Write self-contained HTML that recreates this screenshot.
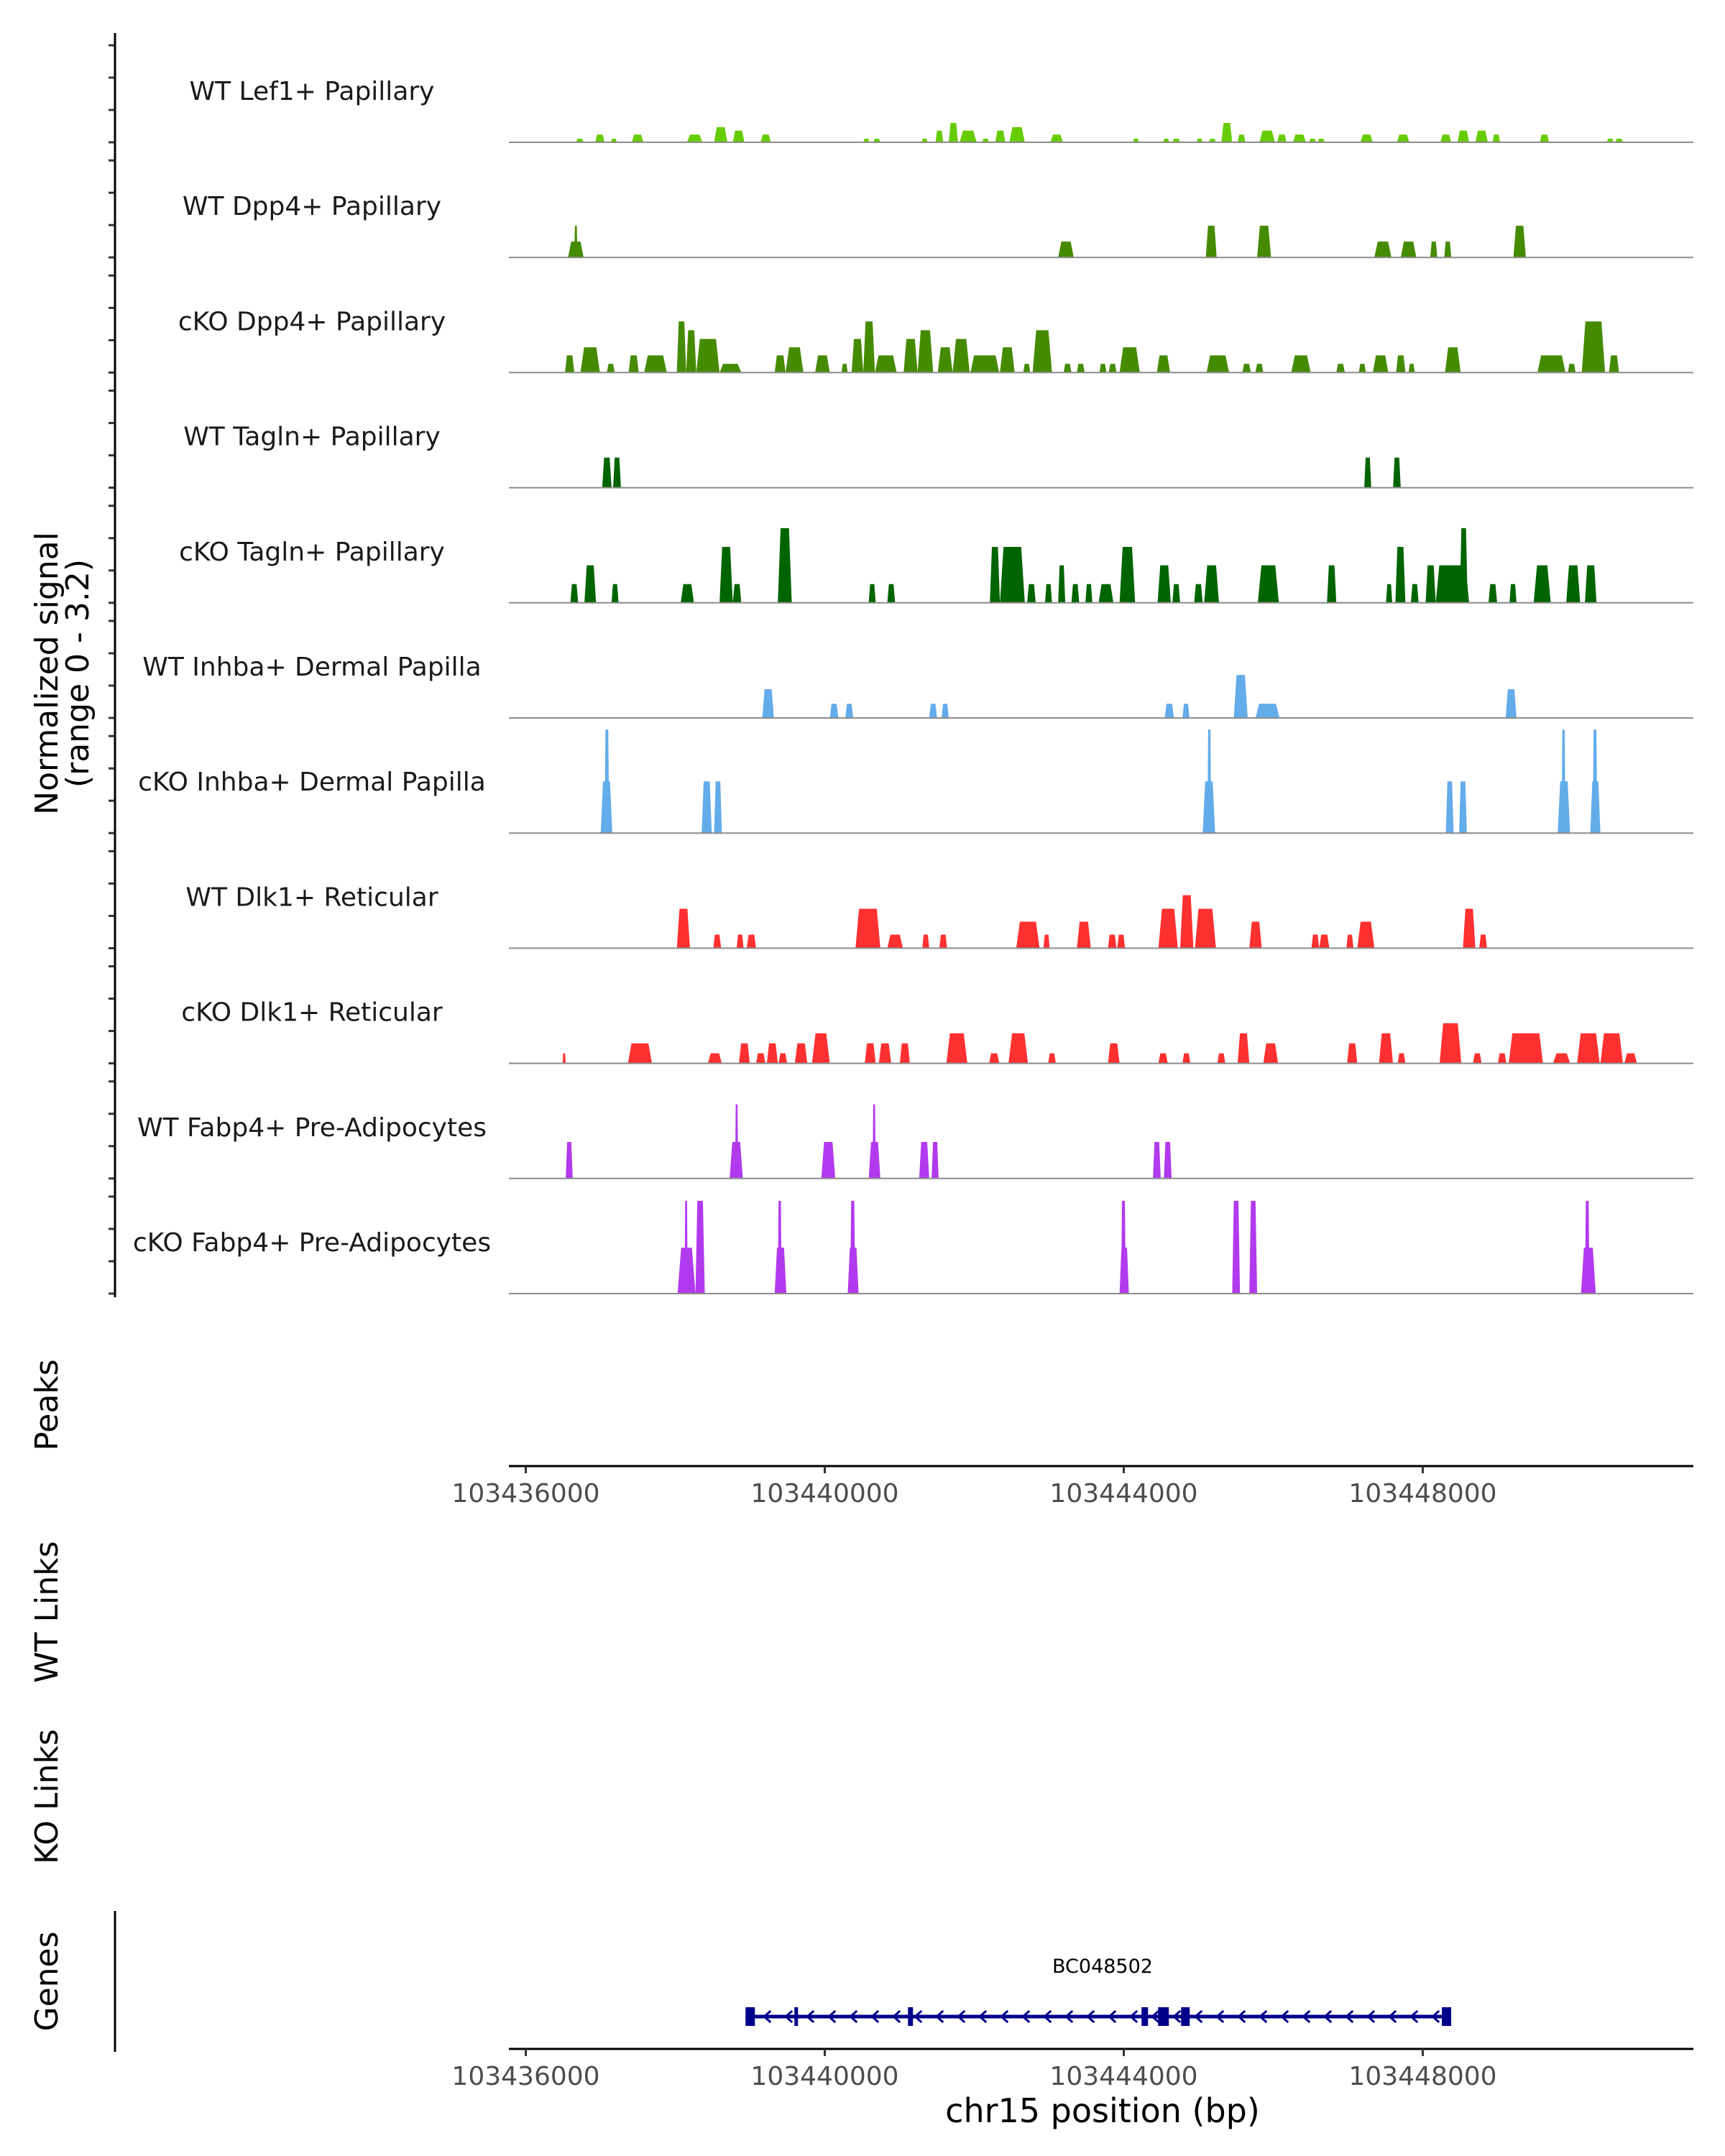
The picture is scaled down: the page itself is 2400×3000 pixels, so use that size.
<!DOCTYPE html>
<html><head><meta charset="utf-8">
<style>
html,body{margin:0;padding:0;background:#fff;}
svg{display:block;font-family:"DejaVu Sans","Liberation Sans",sans-serif;}
</style></head>
<body>
<svg id="chart" xmlns="http://www.w3.org/2000/svg" width="2400" height="3000" viewBox="0 0 2400 3000">
<rect width="2400" height="3000" fill="#fff"/>
<g id="tracks"></g>
<g id="axes"></g>
<g id="genes"></g>
</svg>
<script>
const REGION_START = 103436000;
const trackNames = ["WT Lef1+ Papillary","WT Dpp4+ Papillary","cKO Dpp4+ Papillary","WT Tagln+ Papillary","cKO Tagln+ Papillary","WT Inhba+ Dermal Papilla","cKO Inhba+ Dermal Papilla","WT Dlk1+ Reticular","cKO Dlk1+ Reticular","WT Fabp4+ Pre-Adipocytes","cKO Fabp4+ Pre-Adipocytes"];
const trackColors = ["#66cc00","#458b00","#458b00","#006400","#006400","#63acea","#63acea","#ff3030","#ff3030","#b23aee","#b23aee"];
const xTicks = [103436000,103440000,103444000,103448000];
const xTickLabels = ["103436000","103440000","103444000","103448000"];
// peaks: [start offset bp, end offset bp, signal]
const lef1WT = [[658,765,0.11],[925,1053,0.24],[1139,1224,0.11],[1427,1587,0.24],[2185,2399,0.24],[2559,2741,0.47],[2816,2976,0.36],[3200,3339,0.24],[4610,4695,0.11],[4749,4845,0.11],[5411,5496,0.11],[5603,5710,0.36],[5785,5913,0.6],[5934,6169,0.36],[6244,6340,0.11],[6425,6564,0.36],[6618,6831,0.47],[7184,7355,0.24],[8316,8401,0.11],[8732,8818,0.11],[8860,8967,0.11],[9192,9277,0.11],[9362,9459,0.11],[9533,9683,0.6],[9757,9864,0.24],[10057,10270,0.36],[10302,10430,0.24],[10516,10697,0.24],[10740,10836,0.11],[10858,10954,0.11],[11445,11616,0.24],[11947,12118,0.24],[12545,12695,0.24],[12780,12940,0.36],[13026,13197,0.36],[13261,13367,0.24],[13912,14040,0.24],[14831,14927,0.11],[14948,15055,0.11]];
const dpp4WT = [[551,765,0.49],[637,680,0.98],[7290,7504,0.49],[9320,9469,0.98],[10025,10217,0.98],[11637,11872,0.49],[12000,12214,0.49],[12406,12502,0.49],[12598,12695,0.49],[13549,13720,0.98]];
const dpp4KO = [[509,637,0.53],[722,989,0.78],[1085,1192,0.27],[1384,1523,0.53],[1598,1908,0.53],[2047,2175,1.58],[2175,2314,1.31],[2314,2634,1.04],[2634,2933,0.27],[3392,3542,0.53],[3542,3787,0.78],[3948,4150,0.53],[4311,4396,0.27],[4450,4610,1.04],[4610,4770,1.58],[4770,5069,0.53],[5165,5357,1.04],[5357,5571,1.31],[5635,5838,0.78],[5838,6073,1.04],[6084,6479,0.53],[6489,6692,0.78],[6810,6906,0.27],[6938,7205,1.31],[7365,7472,0.27],[7547,7654,0.27],[7857,7953,0.27],[7985,8092,0.27],[8134,8412,0.78],[8647,8828,0.53],[9330,9640,0.53],[9822,9939,0.27],[10003,10110,0.27],[10494,10761,0.53],[11114,11231,0.27],[11424,11520,0.27],[11616,11829,0.53],[11936,12064,0.53],[12107,12193,0.27],[12609,12823,0.78],[13880,14265,0.53],[14297,14404,0.27],[14489,14809,1.58],[14863,15001,0.53]];
const taglnWT = [[1021,1149,0.93],[1171,1278,0.93],[11498,11594,0.93],[11894,12000,0.93]];
const taglnKO = [[583,690,0.58],[776,936,1.16],[1149,1246,0.58],[2100,2282,0.58],[2634,2816,1.73],[2816,2933,0.58],[3435,3627,2.31],[4685,4781,0.58],[4941,5048,0.58],[6351,6489,1.73],[6489,6831,1.73],[6863,6981,0.58],[7109,7205,0.58],[7290,7387,1.16],[7472,7579,0.58],[7664,7760,0.58],[7846,8049,0.58],[8134,8348,1.73],[8657,8839,1.16],[8860,8967,0.58],[9159,9277,0.58],[9298,9501,1.16],[10035,10324,1.16],[10986,11114,1.16],[11798,11883,0.58],[11926,12064,1.73],[12139,12246,0.58],[12342,12481,1.16],[12481,12940,1.16],[12812,12919,2.31],[13207,13325,0.58],[13495,13592,0.58],[13827,14062,1.16],[14275,14467,1.16],[14532,14692,1.16]];
const inhbaWT = [[3221,3382,0.89],[4150,4268,0.44],[4364,4471,0.44],[5517,5624,0.44],[5688,5785,0.44],[8753,8882,0.44],[8999,9095,0.44],[9704,9896,1.33],[10003,10334,0.44],[13442,13592,0.89]];
const inhbaKO = [[1000,1160,1.6],[1053,1117,3.2],[2388,2527,1.6],[2559,2666,1.6],[9277,9448,1.6],[9341,9394,3.2],[12620,12727,1.6],[12802,12909,1.6],[14158,14329,1.6],[14211,14265,3.2],[14606,14745,1.6],[14639,14703,3.2]];
const dlk1WT = [[2047,2228,1.22],[2548,2655,0.42],[2869,2965,0.42],[3008,3136,0.42],[4503,4845,1.22],[4941,5155,0.42],[5421,5517,0.42],[5656,5763,0.42],[6714,7034,0.82],[7088,7173,0.42],[7547,7739,0.82],[7974,8092,0.42],[8102,8209,0.42],[8668,8935,1.22],[8967,9149,1.64],[9170,9459,1.22],[9918,10089,0.82],[10772,10879,0.42],[10879,11018,0.42],[11253,11349,0.42],[11402,11637,0.82],[12855,13026,1.22],[13079,13186,0.42]];
const dlk1KO = [[477,519,0.31],[1374,1705,0.62],[2474,2666,0.31],[2901,3050,0.62],[3136,3264,0.31],[3285,3435,0.62],[3446,3563,0.31],[3670,3841,0.62],[3905,4150,0.93],[4631,4781,0.62],[4824,4994,0.62],[5112,5251,0.62],[5753,6041,0.93],[6340,6479,0.31],[6607,6874,0.93],[7152,7258,0.31],[7974,8134,0.62],[8668,8796,0.31],[8999,9106,0.31],[9480,9587,0.31],[9757,9918,0.93],[10110,10313,0.62],[11263,11402,0.62],[11701,11893,0.93],[11958,12064,0.31],[12534,12833,1.24],[12994,13111,0.31],[13335,13453,0.31],[13485,13955,0.93],[14094,14329,0.31],[14425,14735,0.93],[14745,15055,0.93],[15076,15247,0.31]];
const fabp4WT = [[519,615,1.13],[2773,2954,1.13],[2848,2890,2.29],[4033,4225,1.13],[4685,4845,1.13],[4738,4781,2.29],[5379,5517,1.13],[5550,5646,1.13],[8593,8700,1.13],[8743,8850,1.13]];
const fabp4KO = [[2057,2303,1.42],[2153,2196,2.87],[2303,2431,2.87],[3392,3553,1.42],[3435,3488,2.87],[4396,4546,1.42],[4430,4500,2.87],[8134,8262,1.42],[8155,8220,2.87],[9683,9790,2.87],[9918,10025,2.87],[14478,14681,1.42],[14532,14596,2.87]];
const trackData = [lef1WT,dpp4WT,dpp4KO,taglnWT,taglnKO,inhbaWT,inhbaKO,dlk1WT,dlk1KO,fabp4WT,fabp4KO];
const geneName = "BC048502";
const geneStart = 2940, geneEnd = 12380;
const exons = [[2940,3065],[3594,3642],[5113,5180],[8238,8325],[8459,8603],[8767,8882],[12255,12380]];

const NS = "http://www.w3.org/2000/svg";
function mk(tag, attrs, parent){const e=document.createElementNS(NS,tag);for(const k in attrs)e.setAttribute(k,attrs[k]);parent.appendChild(e);return e;}
const X0 = 731.5, PXBP = 0.104;
function xPos(bp){return X0 + (bp - REGION_START) * PXBP;}
function xOff(off){return xPos(REGION_START + 1091 + (off - 1091) * 0.973);}
function xGene(off){return xPos(REGION_START + off);}
const BASE0 = 198, TSTEP = 160.2, UNIT = 45;
function yBase(i){return BASE0 + i*TSTEP;}
function yVal(i,v){return yBase(i) - v*UNIT;}
const PL = 708, PR = 2356;

const tracks = document.getElementById('tracks');
const axes = document.getElementById('axes');
const genes = document.getElementById('genes');

trackNames.forEach((name,i)=>{
  const g = mk('g',{},tracks);
  
  
  const t = mk('text',{x:434,y:yBase(i)-59,'font-size':36,'text-anchor':'middle',fill:'#1a1a1a'},g);
  t.textContent = name;
  
  
  trackData[i].forEach(p=>{
    const x1=xOff(p[0]), x2=Math.max(xOff(p[1]), xOff(p[0])+2), yb=yBase(i), yt=yVal(i,p[2]);
    const ins = Math.min((x2-x1)*0.2, 5);
    const r = mk('polygon',{points:x1+','+yb+' '+(x1+ins)+','+yt+' '+(x2-ins)+','+yt+' '+x2+','+yb,fill:trackColors[i]},g);
    
    
  });
  const bl = mk('line',{x1:PL,x2:PR,y1:yBase(i),y2:yBase(i),stroke:'#8c8c8c','stroke-width':2},g);
  
  
  for(let k=0;k<4;k++){
    const tk = mk('line',{x1:151,x2:160,y1:yVal(i,k),y2:yVal(i,k),stroke:'#333','stroke-width':3},axes);
    
    
  }
});
const ya = mk('line',{x1:160,x2:160,y1:46,y2:1805,stroke:'#000','stroke-width':3},axes);


const yt1 = mk('text',{x:0,y:0,'font-size':44,'text-anchor':'middle',fill:'#000',transform:'translate(80,937) rotate(-90)'},axes);
yt1.textContent = 'Normalized signal';


const yt2 = mk('text',{x:0,y:0,'font-size':44,'text-anchor':'middle',fill:'#000',transform:'translate(123,937) rotate(-90)'},axes);
yt2.textContent = '(range 0 - 3.2)';



[['Peaks',1955],['WT Links',2243],['KO Links',2500],['Genes',2757]].forEach(([lab,y])=>{
  const t = mk('text',{x:0,y:0,'font-size':44,'text-anchor':'middle',fill:'#000',transform:'translate(80,'+y+') rotate(-90)'},axes);
  t.textContent = lab;
  
  
});

function xAxis(y){
  const l = mk('line',{x1:PL,x2:PR,y1:y,y2:y,stroke:'#000','stroke-width':3},axes);
  
  
  xTicks.forEach((v,j)=>{
    const tk = mk('line',{x1:xPos(v),x2:xPos(v),y1:y,y2:y+10,stroke:'#333','stroke-width':3},axes);
    
    
    const t = mk('text',{x:xPos(v),y:y+50,'font-size':36,'text-anchor':'middle',fill:'#4d4d4d'},axes);
    t.textContent = xTickLabels[j];
    
    
  });
}
xAxis(2040);
xAxis(2851);
const xt = mk('text',{x:1534,y:2953,'font-size':46,'text-anchor':'middle',fill:'#000'},axes);
xt.textContent = 'chr15 position (bp)';


const ga = mk('line',{x1:160,x2:160,y1:2659,y2:2855,stroke:'#000','stroke-width':3},axes);



// gene model
const GY = 2806;
const gl = mk('line',{x1:xGene(geneStart),x2:xGene(geneEnd),y1:GY,y2:GY,stroke:'#00008b','stroke-width':5},genes);


for(let x=xGene(geneStart)+30;x<xGene(geneEnd)-10;x+=30){
  const c = mk('polyline',{points:(x+5)+','+(GY-8)+' '+(x-4)+','+GY+' '+(x+5)+','+(GY+8),fill:'none',stroke:'#00008b','stroke-width':3},genes);
  
  
}
exons.forEach(e=>{
  const r = mk('rect',{x:xGene(e[0]),y:GY-13,width:Math.max(5,xGene(e[1])-xGene(e[0])),height:26,fill:'#00008b'},genes);
  
  
});
const gt = mk('text',{x:1534,y:2745,'font-size':27,'text-anchor':'middle',fill:'#000'},genes);
gt.textContent = geneName;


</script>
</body></html>
